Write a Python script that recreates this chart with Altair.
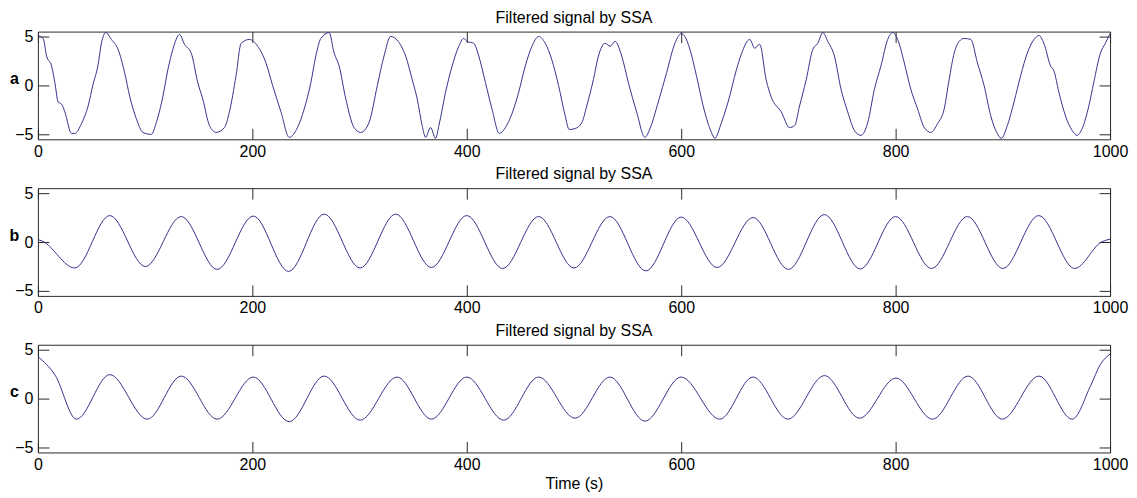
import altair as alt
import pandas as pd

TITLE = "Filtered signal by SSA"
X_TICKS = [0, 200, 400, 600, 800, 1000]
Y_TICKS = [-5, 0, 5]
PANEL_LABELS = ["a", "b", "c"]
X_TITLE = "Time (s)"

a_t = [0, 4.9, 8.1, 12.7, 15.8, 18.9, 22, 25.1, 31.3, 34.4, 40.6, 46.8, 51.4, 56.1, 59.2, 63.3,
       68.5, 74.7, 80.9, 85.6, 91.8, 98, 105.8, 110.4, 116.6, 121.2, 125.9, 132.1, 136.7, 143,
       149.1, 153.8, 160, 166.2, 174, 178.6, 184.8, 189.5, 197.2, 205, 212.7, 218.9, 226.7,
       234.4, 242.1, 248.4, 254.6, 259.2, 263.9, 271.6, 276.3, 280.9, 287.2, 294.9, 301.1,
       308.8, 316.6, 322.8, 329, 336, 343, 349.1, 353.8, 358.4, 361.6, 366.2, 370.9, 374,
       380.2, 386.4, 392.6, 397.2, 400.3, 406.5, 411.2, 417.4, 423.5, 430.4, 436, 442.1,
       448.4, 454.6, 460.8, 467, 473.2, 479.4, 485.6, 491.8, 495.5, 501.1, 507.3, 511.9,
       518.1, 522.8, 529, 533.7, 538.3, 544.5, 550.7, 558.4, 566.2, 570.9, 578.6, 586.4,
       594.1, 600.3, 603.4, 608.1, 614.2, 620.5, 628.2, 631.3, 637.5, 643.7, 651.5, 656.1,
       663.9, 668.6, 673.2, 679.4, 684, 693.3, 701.1, 705.8, 710.4, 716.6, 722.8, 727.4,
       732.1, 736.7, 742.9, 749.1, 755.3, 761.6, 767.7, 774, 780.2, 786.3, 792.6, 797.2,
       801.9, 808.1, 814.2, 820.5, 826.7, 832.8, 839.1, 845.3, 849.9, 854.6, 859.3, 863.9,
       870.1, 876.3, 882.5, 888.7, 894.3, 898.6, 904.2, 910.4, 916.6, 922.8, 929.1, 933.7,
       938.3, 944.5, 947.6, 952.3, 958.4, 964.7, 969.3, 974, 980.2, 984.8, 991, 995.6, 1000]
a_v = [5.1, 4.8, 3.0, 2.0, 0.3, -1.7, -1.9, -2.7, -4.9, -4.9, -3.9, -2.1, 0.1, 2.1, 4.3, 5.4,
       4.7, 3.7, 1.3, -1.1, -3.4, -4.8, -5.0, -3.8, -1.1, 1.6, 3.7, 5.2, 4.2, 3.3,
       0.3, -1.4, -4.1, -4.8, -4.3, -2.7, 1.0, 4.3, 4.7, 4.0, 2.3, 0.0, -2.7,
       -5.3, -4.3, -2.4, 0.3, 3.0, 4.8, 5.4, 3.3, 2.0, -1.4, -4.3, -4.8,
       -3.8, 0.0, 3.0, 5.0, 4.5, 3.0, 0.6, -1.4, -4.1, -5.3, -4.3, -5.4, -4.1,
       -0.7, 2.0, 4.0, 4.8, 4.5, 4.3, 3.0, 0.3, -2.4, -4.9, -4.3, -2.9,
       -0.7, 2.0, 4.0, 5.0, 4.3, 2.6, 0.0, -3.1, -4.5, -4.4, -3.8, -2.1,
       0.6, 3.0, 4.3, 4.0, 4.5, 3.0, 0.3, -2.7, -5.3, -4.4, -1.7, 1.3,
       4.3, 5.3, 5.0, 3.7, 1.0, -2.1, -4.8, -5.4, -3.8, -1.7, 1.6, 3.2,
       4.7, 3.8, 4.2, 0.5, -1.2, -2.7, -4.3, -4.1, -2.1, 0.6, 3.7, 4.3,
       5.4, 4.5, 3.0, -0.4, -2.7, -4.6, -5.1, -3.8, -0.4, 2.0, 4.7, 5.4,
       4.7, 2.3, -0.4, -2.4, -4.3, -4.8, -3.9, -2.4, 0.6, 3.3, 4.5, 4.8,
       4.7, 2.3, 0.0, -3.1, -4.8, -5.4, -4.1, -1.7, 1.0, 3.3, 4.7, 5.1,
       4.3, 2.0, 1.5, -0.7, -3.1, -4.6, -5.1, -4.4, -2.1, 0.3, 3.3, 4.3, 5.3]

b_t = [0, 4, 34.4, 67, 100.2, 133.7, 167.2, 200.9, 233.8, 267, 300.5, 333.7, 367, 400, 433.5,
       467, 500, 533.5, 567, 600, 633.5, 667, 700, 733.5, 767, 800, 833.5, 867, 900, 933.5,
       967, 992, 1000]
b_v = [0.25, 0.1, -2.65, 2.7, -2.5, 2.6, -2.8, 2.65, -3.0, 2.85, -2.65, 2.85, -2.6, 2.7, -2.7,
       2.6, -2.65, 2.6, -2.95, 2.55, -2.6, 2.5, -2.8, 2.8, -2.75, 2.6, -2.7, 2.6, -2.7, 2.7,
       -2.7, 0.0, 0.3]

c_t = [0, 16, 35.9, 67, 102, 133.7, 167.2, 200.9, 234.4, 267, 300.5, 335, 367, 400, 434.4,
       467, 501, 533.5, 566.2, 600, 636, 667, 699.5, 733.7, 766.3, 800.3, 834.4, 867.6, 899.5,
       933.7, 964.7, 982, 991, 1000]
c_v = [4.3, 2.4, -2.1, 2.45, -2.1, 2.3, -2.1, 2.2, -2.35, 2.3, -2.2, 2.2, -2.1, 2.2, -2.2,
       2.2, -2.0, 2.2, -2.3, 2.2, -2.1, 2.2, -2.1, 2.35, -2.0, 2.1, -2.1, 2.3, -2.1,
       2.3, -2.1, 1.35, 3.5, 4.55]

W, H = 1075, 108
FONT = "Liberation Sans"
LINE = "#34348e"
FRAME = "#2a2a2a"
TICK = 11


def panel(t, v, name, interp, xtitle=None):
    df = pd.DataFrame({"t": t, "v": v})
    xs = alt.Scale(domain=[0, 1000], nice=False, zero=False)
    ys = alt.Scale(domain=[-5.5, 5.5], nice=False, zero=False)
    base = alt.Chart(df)
    xaxis = dict(values=X_TICKS, format="d", tickSize=0, domain=False, grid=False,
                 labelFlush=False, labelPadding=4, labelFontSize=16, labelFont=FONT,
                 labelColor="#000")
    if xtitle:
        xaxis.update(title=xtitle, titleFont=FONT, titleFontSize=16, titleFontWeight="normal",
                     titlePadding=3, titleColor="#000")
    else:
        xaxis.update(title=None)
    main = base.mark_line(color=LINE, strokeWidth=1, interpolate=interp, clip=True).encode(
        x=alt.X("t:Q", scale=xs, axis=alt.Axis(**xaxis)),
        y=alt.Y("v:Q", scale=ys, axis=alt.Axis(
            values=Y_TICKS, tickSize=0, domain=False, grid=False, labelPadding=5,
            labelFontSize=16, labelFont=FONT, labelColor="#000",
            title=name, titleAngle=0, titleX=-24, titleY=47, titleAlign="center",
            titleBaseline="middle", titleFont=FONT, titleFontSize=16,
            titleFontWeight="bold", titleColor="#000")),
    )
    inner1 = base.mark_line(strokeOpacity=0).encode(
        x=alt.X("t:Q", scale=xs, title=None, axis=alt.Axis(
            orient="top", offset=-H, values=X_TICKS, labels=False, tickSize=TICK,
            tickColor=FRAME, domain=False, grid=False)),
        y=alt.Y("v:Q", scale=ys, title=None, axis=alt.Axis(
            orient="right", offset=-W, values=Y_TICKS, labels=False, tickSize=TICK,
            tickColor=FRAME, domain=False, grid=False)),
    )
    inner2 = base.mark_line(strokeOpacity=0).encode(
        x=alt.X("t:Q", scale=xs, title=None, axis=alt.Axis(
            orient="bottom", offset=-H, values=X_TICKS, labels=False, tickSize=TICK,
            tickColor=FRAME, domain=False, grid=False)),
        y=alt.Y("v:Q", scale=ys, title=None, axis=alt.Axis(
            orient="left", offset=-W, values=Y_TICKS, labels=False, tickSize=TICK,
            tickColor=FRAME, domain=False, grid=False)),
    )
    return alt.layer(main, inner1, inner2).resolve_axis(
        x="independent", y="independent"
    ).properties(
        width=W, height=H,
        title=alt.TitleParams(TITLE, font=FONT, fontSize=16, fontWeight="normal",
                              color="#000", anchor="middle", offset=3),
    )


pa = panel(a_t, a_v, PANEL_LABELS[0], "monotone")
pb = panel(b_t, b_v, PANEL_LABELS[1], "monotone")
pc = panel(c_t, c_v, PANEL_LABELS[2], "monotone", xtitle=X_TITLE)

chart = alt.vconcat(pa, pb, pc, spacing=5).properties(
    padding={"left": 0, "top": 0, "right": 0, "bottom": 0},
    background="white",
).configure_view(stroke=FRAME, strokeWidth=1)

chart.save("out.html", embed_options={"renderer": "svg", "actions": False})
